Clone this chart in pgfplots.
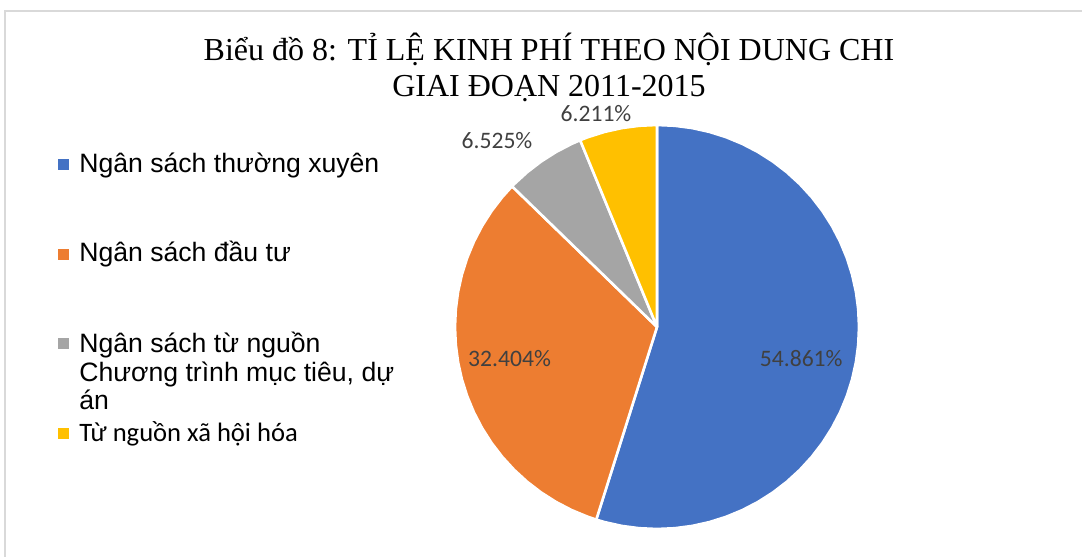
\documentclass[border=0pt]{standalone}
\usepackage{pgfplots}
\pgfplotsset{compat=1.18}
\usepackage{fontspec}
\setmainfont{Liberation Serif}
\newfontfamily\arial{Liberation Sans}
\newfontfamily\calibri{Carlito}
\definecolor{cblue}{HTML}{4472C4}
\definecolor{corange}{HTML}{ED7D31}
\definecolor{cgray}{HTML}{A5A5A5}
\definecolor{cyellow}{HTML}{FFC000}
\definecolor{labc}{HTML}{404040}
\definecolor{bord}{HTML}{D9D9D9}
% Shares (%): 54.861, 32.404, 6.525, 6.211 -> slice angles (deg, clockwise from 90)
\begin{document}
\begin{tikzpicture}[x=0.5pt,y=0.5pt]
\path[use as bounding box] (0,0) rectangle (1082,557);
\draw[bord, line width=1pt] (5,0) -- (5,546) -- (1082,546);
% title
\node[anchor=base, font=\fontsize{16}{19}\selectfont] at (549,496) {Biểu đồ 8: TỈ LỆ KINH PHÍ THEO NỘI DUNG CHI};
\node[anchor=base, font=\fontsize{16}{19}\selectfont] at (549,460) {GIAI ĐOẠN 2011-2015};
% legend
\fill[cblue] (58,386.5) rectangle (69,397.5);
\node[anchor=base west, font=\arial\fontsize{13.3}{16}\selectfont, inner sep=0] at (79,384) {Ngân sách thường xuyên};
\fill[corange] (58,296.5) rectangle (69,307.5);
\node[anchor=base west, font=\arial\fontsize{13.3}{16}\selectfont, inner sep=0] at (79,295) {Ngân sách đầu tư};
\fill[cgray] (58,207.5) rectangle (69,218.5);
\node[anchor=base west, font=\arial\fontsize{13.3}{16}\selectfont, inner sep=0] at (79,204) {Ngân sách từ nguồn};
\node[anchor=base west, font=\arial\fontsize{13.3}{16}\selectfont, inner sep=0] at (79,175) {Chương trình mục tiêu, dự};
\node[anchor=base west, font=\arial\fontsize{13.3}{16}\selectfont, inner sep=0] at (79,147) {án};
\fill[cyellow] (58,117.5) rectangle (69,128.5);
\node[anchor=base west, font=\calibri\fontsize{13.3}{16}\selectfont, inner sep=0] at (79,115) {Từ nguồn xã hội hóa};
\begin{axis}[
  at={(328.5pt,115pt)}, anchor=center,
  scale only axis, width=202pt, height=202pt,
  xmin=-1, xmax=1, ymin=-1, ymax=1,
  hide axis, clip=false,
  every axis plot/.style={draw=white, line width=1.3pt, line join=round},
]
\addplot[fill=cblue, data cs=polar] coordinates {
 (0,0) (90,1) (85,1) (80,1) (75,1) (70,1) (65,1) (60,1) (55,1) (50,1) (45,1) (40,1) (35,1) (30,1) (25,1) (20,1) (15,1) (10,1) (5,1) (0,1)
 (-5,1) (-10,1) (-15,1) (-20,1) (-25,1) (-30,1) (-35,1) (-40,1) (-45,1) (-50,1) (-55,1) (-60,1) (-65,1) (-70,1) (-75,1) (-80,1) (-85,1) (-90,1) (-95,1) (-100,1) (-105,1) (-107.5,1) (0,0)} -- cycle;
\addplot[fill=corange, data cs=polar] coordinates {
 (0,0) (-107.5,1) (-110,1) (-115,1) (-120,1) (-125,1) (-130,1) (-135,1) (-140,1) (-145,1) (-150,1) (-155,1) (-160,1) (-165,1) (-170,1) (-175,1) (-180,1) (-185,1) (-190,1) (-195,1) (-200,1) (-205,1) (-210,1) (-215,1) (-220,1) (-224.15,1) (0,0)} -- cycle;
\addplot[fill=cgray, data cs=polar] coordinates {
 (0,0) (-224.15,1) (-225,1) (-230,1) (-235,1) (-240,1) (-245,1) (-247.64,1) (0,0)} -- cycle;
\addplot[fill=cyellow, data cs=polar] coordinates {
 (0,0) (-247.64,1) (-250,1) (-255,1) (-260,1) (-265,1) (-270,1) (0,0)} -- cycle;
\node[font=\calibri\fontsize{11.8}{14}\selectfont, text=labc] at (axis cs:0.714,-0.158) {54.861\%};
\node[font=\calibri\fontsize{11.8}{14}\selectfont, text=labc] at (axis cs:-0.730,-0.158) {32.404\%};
\node[font=\calibri\fontsize{11.8}{14}\selectfont, text=labc] at (axis cs:-0.792,0.921) {6.525\%};
\node[font=\calibri\fontsize{11.8}{14}\selectfont, text=labc] at (axis cs:-0.302,1.059) {6.211\%};
\end{axis}
\end{tikzpicture}
\end{document}
